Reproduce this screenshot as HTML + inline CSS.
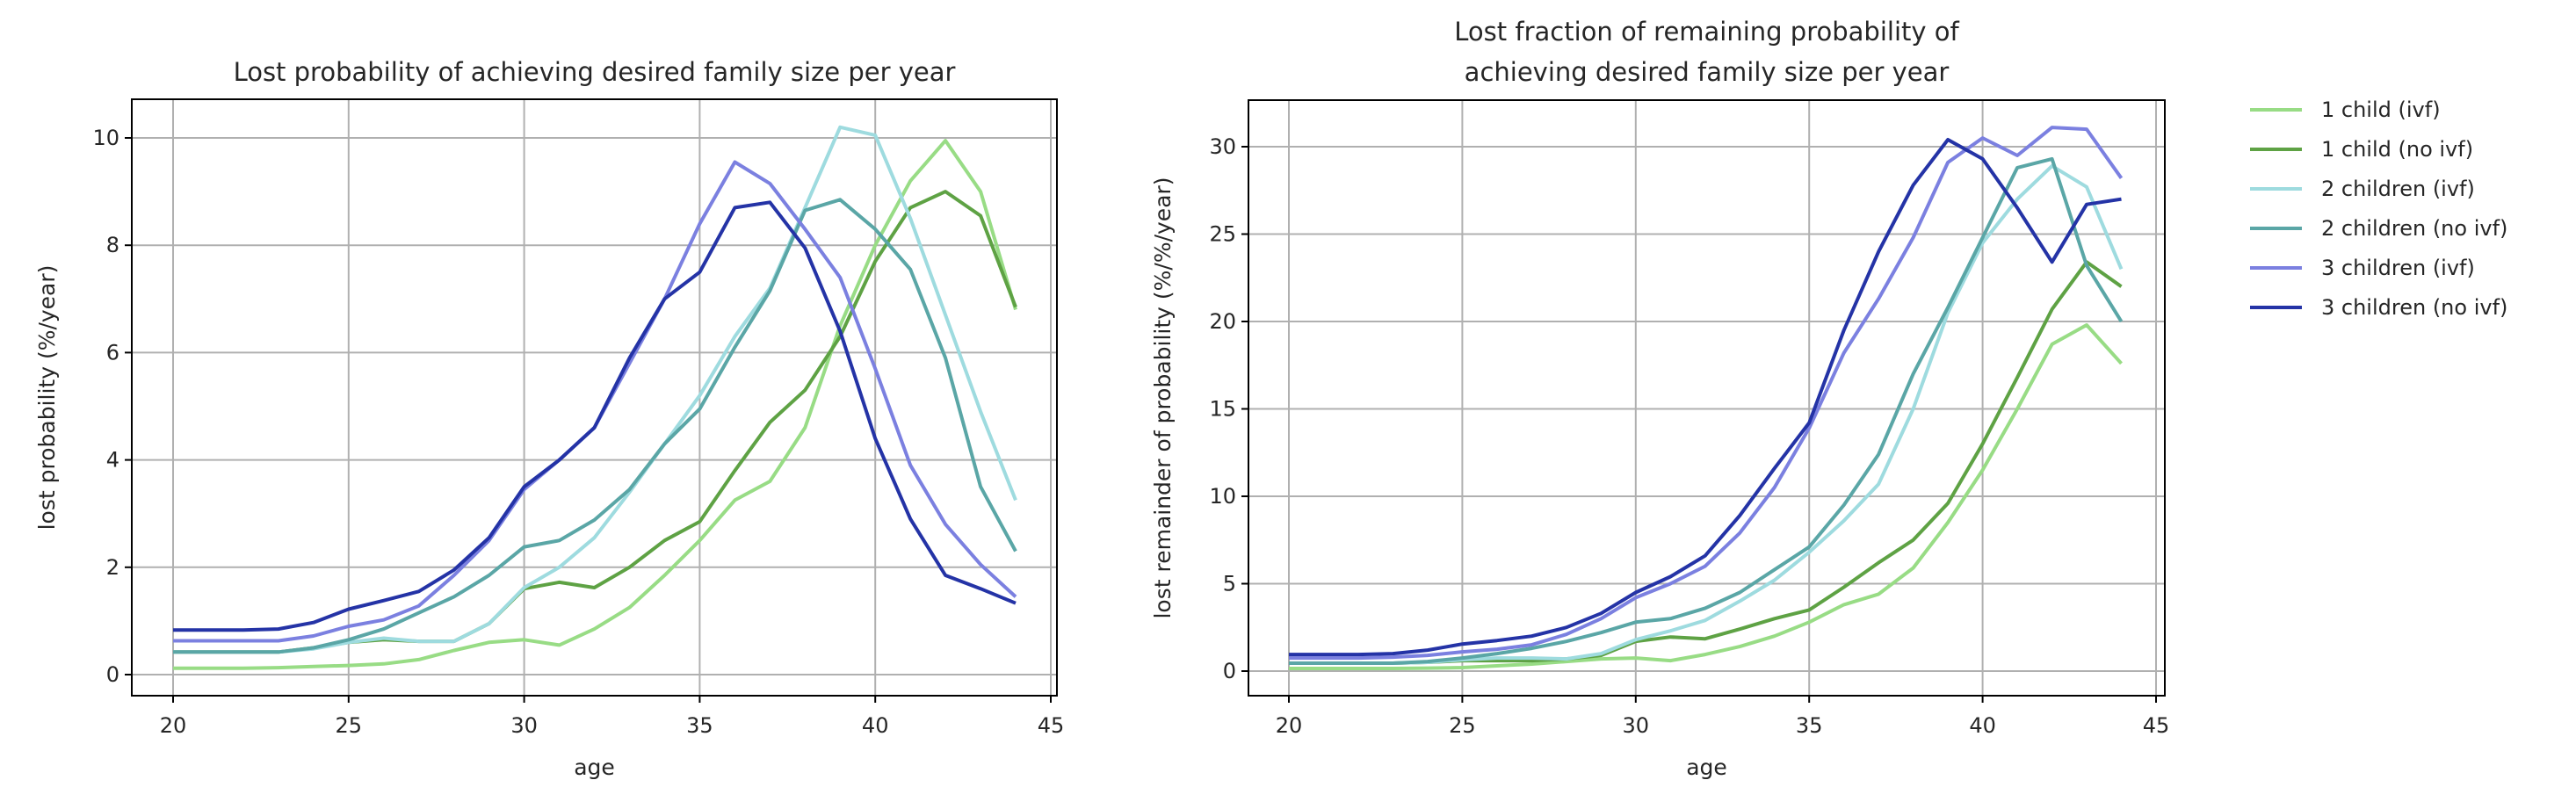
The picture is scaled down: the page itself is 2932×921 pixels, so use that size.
<!DOCTYPE html>
<html><head><meta charset="utf-8"><style>
html,body{margin:0;padding:0;background:#fff;}
svg text{font-family:"DejaVu Sans","Liberation Sans",sans-serif;fill:#262626;}
</style></head>
<body>
<svg id="fig" width="2932" height="916" viewBox="0 0 2932 916" xmlns="http://www.w3.org/2000/svg">
<rect width="2932" height="916" fill="#fff"/>
</svg>
<script>
const ages = [20,21,22,23,24,25,26,27,28,29,30,31,32,33,34,35,36,37,38,39,40,41,42,43,44];
const seriesNames = ["1 child (ivf)","1 child (no ivf)","2 children (ivf)","2 children (no ivf)","3 children (ivf)","3 children (no ivf)"];
const seriesColors = ["#98dc85","#5ea244","#9edbdf","#5aa6a6","#7b80e0","#2433a6"];
const leftC1ivf = [0.12,0.12,0.12,0.13,0.15,0.17,0.2,0.28,0.45,0.6,0.65,0.55,0.85,1.25,1.85,2.5,3.25,3.6,4.6,6.5,8.0,9.2,9.95,9.0,6.8];
const leftC1no = [0.42,0.42,0.42,0.42,0.5,0.6,0.65,0.62,0.62,0.95,1.6,1.72,1.62,2.0,2.5,2.85,3.8,4.7,5.3,6.3,7.7,8.7,9.0,8.55,6.85];
const leftC2ivf = [0.42,0.42,0.42,0.42,0.48,0.6,0.68,0.62,0.62,0.95,1.62,2.0,2.55,3.4,4.3,5.2,6.3,7.2,8.7,10.2,10.05,8.5,6.7,4.9,3.25];
const leftC2no = [0.42,0.42,0.42,0.42,0.5,0.65,0.85,1.15,1.45,1.85,2.38,2.5,2.88,3.45,4.3,4.95,6.1,7.15,8.65,8.85,8.3,7.55,5.9,3.5,2.3];
const leftC3ivf = [0.63,0.63,0.63,0.63,0.72,0.9,1.02,1.28,1.85,2.5,3.45,4.0,4.6,5.8,7.0,8.4,9.55,9.15,8.3,7.4,5.7,3.9,2.8,2.05,1.45];
const leftC3no = [0.83,0.83,0.83,0.85,0.97,1.22,1.38,1.55,1.95,2.55,3.5,4.0,4.6,5.9,7.0,7.5,8.7,8.8,7.95,6.4,4.4,2.9,1.85,1.6,1.33];
const rightC1ivf = [0.15,0.15,0.15,0.15,0.17,0.2,0.3,0.4,0.55,0.7,0.75,0.6,0.95,1.4,2.0,2.8,3.8,4.4,5.9,8.5,11.5,15,18.7,19.8,17.6];
const rightC1no = [0.45,0.45,0.45,0.45,0.5,0.6,0.6,0.6,0.7,0.9,1.7,1.95,1.85,2.4,3.0,3.5,4.8,6.2,7.5,9.6,13,16.8,20.7,23.4,22.0];
const rightC2ivf = [0.45,0.45,0.45,0.45,0.5,0.65,0.75,0.75,0.7,1.0,1.8,2.3,2.9,4.0,5.2,6.8,8.6,10.7,15,20.5,24.5,27.0,28.9,27.7,23.0];
const rightC2no = [0.45,0.45,0.45,0.45,0.55,0.75,1.0,1.3,1.7,2.2,2.8,3.0,3.6,4.5,5.8,7.1,9.5,12.4,17.0,20.8,24.8,28.8,29.3,23.2,20.0];
const rightC3ivf = [0.75,0.75,0.75,0.8,0.9,1.1,1.25,1.5,2.1,3.0,4.2,5.0,6.0,7.9,10.5,13.9,18.2,21.3,24.8,29.1,30.5,29.5,31.1,31.0,28.2];
const rightC3no = [0.95,0.95,0.95,1.0,1.2,1.55,1.75,2.0,2.5,3.3,4.5,5.4,6.6,8.9,11.6,14.2,19.5,24,27.8,30.4,29.3,26.5,23.4,26.7,27.0];
const xTicks = [20,25,30,35,40,45];
const leftYTicks = [0,2,4,6,8,10];
const rightYTicks = [0,5,10,15,20,25,30];

const NS="http://www.w3.org/2000/svg";
const svg=document.getElementById('fig');
function mk(tag,attrs,parent){const e=document.createElementNS(NS,tag);for(const k in attrs)e.setAttribute(k,attrs[k]);(parent||svg).appendChild(e);return e;}

function drawAxes(cfg){
  const g=mk('g',{});
  
  
  const X=v=>cfg.x0px+(v-20)*cfg.xUnit;
  const Y=v=>cfg.y0px-v*cfg.yUnit;
  xTicks.forEach(t=>{
    const l=mk('line',{x1:X(t),x2:X(t),y1:cfg.top,y2:cfg.bottom,stroke:'#b0b0b0','stroke-width':2},g);
    
    
  });
  cfg.yTicks.forEach(t=>{
    const l=mk('line',{x1:cfg.left,x2:cfg.right,y1:Y(t),y2:Y(t),stroke:'#b0b0b0','stroke-width':2},g);
    
    
  });
  cfg.series.forEach((s,i)=>{
    const pts=s.map((v,j)=>X(ages[j]).toFixed(1)+','+Y(v).toFixed(1)).join(' ');
    const p=mk('polyline',{points:pts,fill:'none',stroke:seriesColors[i],'stroke-width':4,'stroke-linejoin':'round'},g);
    
    
  });
  const r=mk('rect',{x:cfg.left,y:cfg.top,width:cfg.right-cfg.left,height:cfg.bottom-cfg.top,fill:'none',stroke:'#000','stroke-width':2},g);
  
  
  xTicks.forEach(t=>{
    mk('line',{x1:X(t),x2:X(t),y1:cfg.bottom,y2:cfg.bottom+8,stroke:'#000','stroke-width':2},g);
    const tx=mk('text',{x:X(t),y:cfg.bottom+42,'font-size':24,'text-anchor':'middle'},g);
    tx.textContent=t;
    
    
  });
  cfg.yTicks.forEach(t=>{
    mk('line',{x1:cfg.left-8,x2:cfg.left,y1:Y(t),y2:Y(t),stroke:'#000','stroke-width':2},g);
    const tx=mk('text',{x:cfg.left-14,y:Y(t)+8,'font-size':24,'text-anchor':'end'},g);
    tx.textContent=t;
    
    
  });
  const xl=mk('text',{x:(cfg.left+cfg.right)/2,y:882,'font-size':25,'text-anchor':'middle'},g);
  xl.textContent='age';
  
  
  const yl=mk('text',{x:0,y:0,'font-size':25,'text-anchor':'middle',transform:`translate(${cfg.ylabX},${(cfg.top+cfg.bottom)/2}) rotate(-90)`},g);
  yl.textContent=cfg.ylab;
  
  
  cfg.title.forEach((line,i)=>{
    const t=mk('text',{x:(cfg.left+cfg.right)/2,y:cfg.titleY+i*46,'font-size':29,'text-anchor':'middle'},g);
    t.textContent=line;
    
    
  });
}

drawAxes({name:'left-chart',left:150,right:1203,top:113,bottom:792,x0px:197,xUnit:(1196-197)/25,y0px:768,yUnit:61.1,
  yTicks:leftYTicks,series:[leftC1ivf,leftC1no,leftC2ivf,leftC2no,leftC3ivf,leftC3no],
  ylab:'lost probability (%/year)',ylabX:62,title:['Lost probability of achieving desired family size per year'],titleY:92});
drawAxes({name:'right-chart',left:1421,right:2464,top:114,bottom:792,x0px:1467,xUnit:(2454-1467)/25,y0px:764,yUnit:(764-167)/30,
  yTicks:rightYTicks,series:[rightC1ivf,rightC1no,rightC2ivf,rightC2no,rightC3ivf,rightC3no],
  ylab:'lost remainder of probability (%/%/year)',ylabX:1332,title:['Lost fraction of remaining probability of','achieving desired family size per year'],titleY:46});

const lg=mk('g',{});


seriesNames.forEach((n,i)=>{
  const y=125+i*45;
  const e=mk('g',{},lg);
  
  
  mk('line',{x1:2561,x2:2620,y1:y,y2:y,stroke:seriesColors[i],'stroke-width':4},e);
  const t=mk('text',{x:2642,y:y+8,'font-size':24},e);
  t.textContent=n;
});
</script>
</body></html>
